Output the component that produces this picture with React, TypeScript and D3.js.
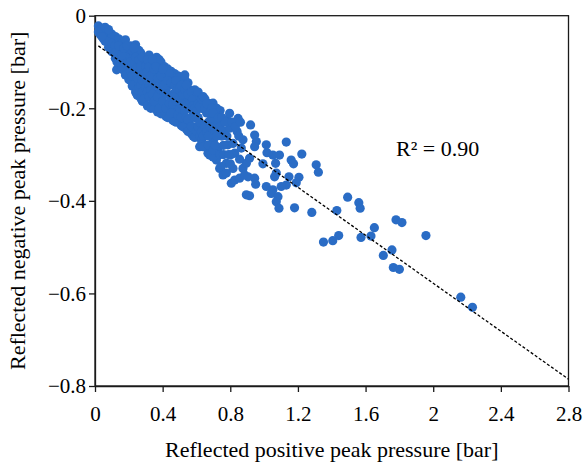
import React, { useEffect, useRef } from 'react'
import * as d3 from 'd3'

// points: [positive peak, negative peak] in bar
const clusterLow: [number, number][] = [
  [0.02, -0.022], [0.03, -0.03], [0.04, -0.027], [0.05, -0.035], [0.03, -0.04], [0.06, -0.038],
  [0.07, -0.033], [0.08, -0.045], [0.06, -0.055], [0.09, -0.05], [0.1, -0.04], [0.11, -0.06],
  [0.08, -0.068], [0.12, -0.045], [0.13, -0.07], [0.1, -0.078], [0.14, -0.05], [0.15, -0.088],
  [0.12, -0.092], [0.16, -0.06], [0.17, -0.1], [0.128, -0.117], [0.15, -0.075], [0.18, -0.052],
  [0.19, -0.08], [0.17, -0.118], [0.2, -0.11], [0.18, -0.128], [0.21, -0.065], [0.2, -0.138],
  [0.22, -0.09], [0.23, -0.13], [0.22, -0.152], [0.24, -0.063], [0.25, -0.1], [0.24, -0.165],
  [0.26, -0.14], [0.25, -0.172], [0.27, -0.08], [0.28, -0.12], [0.27, -0.178], [0.29, -0.16],
  [0.28, -0.185], [0.3, -0.09], [0.3, -0.135], [0.29, -0.105], [0.26, -0.075], [0.23, -0.11],
  [0.21, -0.14], [0.19, -0.11], [0.16, -0.11], [0.14, -0.085], [0.11, -0.075], [0.09, -0.065],
  [0.05, -0.05], [0.02, -0.035], [0.07, -0.055], [0.13, -0.1], [0.2, -0.125], [0.24, -0.15],
  [0.27, -0.165], [0.3, -0.178], [0.26, -0.12], [0.22, -0.075], [0.18, -0.09],
  [0.04, -0.045], [0.06, -0.025], [0.08, -0.03], [0.1, -0.06], [0.12, -0.065], [0.12, -0.08],
  [0.14, -0.065], [0.15, -0.1], [0.16, -0.085], [0.17, -0.07], [0.18, -0.105], [0.19, -0.125],
  [0.19, -0.065], [0.21, -0.1], [0.21, -0.12], [0.22, -0.13], [0.23, -0.07], [0.23, -0.15],
  [0.24, -0.09], [0.24, -0.115], [0.25, -0.135], [0.25, -0.16], [0.26, -0.095], [0.26, -0.155],
  [0.27, -0.11], [0.27, -0.13], [0.27, -0.15], [0.28, -0.09], [0.28, -0.14], [0.28, -0.165],
  [0.29, -0.125], [0.29, -0.18], [0.3, -0.11], [0.3, -0.155],
]

const clusterMid: [number, number][] = [
  [0.31, -0.195], [0.32, -0.085], [0.33, -0.11], [0.32, -0.15], [0.34, -0.19], [0.33, -0.2],
  [0.35, -0.1], [0.35, -0.14], [0.36, -0.17], [0.364, -0.09], [0.37, -0.2], [0.37, -0.208],
  [0.38, -0.12], [0.38, -0.155], [0.39, -0.1], [0.39, -0.185], [0.4, -0.14], [0.4, -0.21],
  [0.41, -0.11], [0.41, -0.17], [0.42, -0.218], [0.42, -0.13], [0.43, -0.115], [0.43, -0.19],
  [0.44, -0.15], [0.44, -0.21], [0.45, -0.12], [0.45, -0.175], [0.46, -0.226], [0.46, -0.14],
  [0.47, -0.2], [0.47, -0.125], [0.48, -0.16], [0.48, -0.23], [0.49, -0.13], [0.49, -0.19],
  [0.5, -0.215], [0.5, -0.145], [0.501, -0.132], [0.51, -0.17], [0.51, -0.237], [0.52, -0.2],
  [0.52, -0.15], [0.53, -0.137], [0.53, -0.225], [0.54, -0.175], [0.54, -0.245], [0.55, -0.145],
  [0.55, -0.2], [0.56, -0.235], [0.56, -0.16], [0.57, -0.185], [0.57, -0.255], [0.58, -0.215],
  [0.58, -0.26], [0.59, -0.16], [0.59, -0.24], [0.6, -0.19], [0.34, -0.125], [0.36, -0.13],
  [0.42, -0.16], [0.46, -0.17], [0.5, -0.18], [0.44, -0.125], [0.38, -0.095], [0.41, -0.195],
  [0.53, -0.19], [0.57, -0.22], [0.31, -0.12], [0.31, -0.165], [0.52, -0.24], [0.48, -0.205],
  [0.43, -0.22], [0.39, -0.212], [0.35, -0.2], [0.47, -0.228], [0.55, -0.25], [0.59, -0.263],
  [0.531, -0.128], [0.541, -0.157],
  [0.31, -0.095], [0.31, -0.14], [0.32, -0.11], [0.32, -0.175], [0.33, -0.13], [0.33, -0.16],
  [0.34, -0.095], [0.34, -0.17], [0.35, -0.115], [0.35, -0.185], [0.36, -0.11], [0.36, -0.15],
  [0.37, -0.135], [0.37, -0.175], [0.38, -0.2], [0.39, -0.13], [0.39, -0.16], [0.4, -0.115],
  [0.4, -0.185], [0.41, -0.15], [0.42, -0.2], [0.43, -0.14], [0.43, -0.17], [0.44, -0.19],
  [0.45, -0.145], [0.45, -0.21], [0.46, -0.19], [0.47, -0.15], [0.47, -0.175], [0.48, -0.14],
  [0.48, -0.185], [0.49, -0.16], [0.49, -0.215], [0.5, -0.16], [0.5, -0.2], [0.51, -0.15],
  [0.51, -0.19], [0.51, -0.22], [0.52, -0.17], [0.53, -0.16], [0.53, -0.205], [0.54, -0.15],
  [0.54, -0.22], [0.55, -0.17], [0.55, -0.225], [0.56, -0.2], [0.57, -0.165], [0.57, -0.24],
  [0.58, -0.18], [0.58, -0.195], [0.59, -0.2], [0.59, -0.22], [0.6, -0.25], [0.6, -0.205],
]

const clusterHigh: [number, number][] = [
  [0.6, -0.165], [0.62, -0.175], [0.63, -0.2], [0.61, -0.22], [0.64, -0.24], [0.62, -0.26],
  [0.619, -0.283], [0.65, -0.18], [0.66, -0.21], [0.67, -0.23], [0.678, -0.19], [0.668, -0.297],
  [0.678, -0.301], [0.69, -0.25], [0.698, -0.189], [0.7, -0.27], [0.71, -0.21], [0.72, -0.23],
  [0.718, -0.312], [0.73, -0.285], [0.737, -0.33], [0.74, -0.205], [0.75, -0.26], [0.757, -0.344],
  [0.767, -0.25], [0.777, -0.319], [0.78, -0.225], [0.786, -0.279], [0.796, -0.211], [0.796, -0.243],
  [0.806, -0.362], [0.816, -0.276], [0.816, -0.33], [0.826, -0.297], [0.826, -0.355], [0.84, -0.25],
  [0.846, -0.222], [0.855, -0.351], [0.865, -0.286], [0.875, -0.268], [0.875, -0.33], [0.885, -0.344],
  [0.895, -0.319], [0.895, -0.387], [0.905, -0.348], [0.6, -0.22], [0.61, -0.19], [0.63, -0.27],
  [0.64, -0.2], [0.65, -0.26], [0.66, -0.28], [0.67, -0.2], [0.69, -0.22], [0.7, -0.24],
  [0.72, -0.2], [0.73, -0.255], [0.69, -0.3], [0.746, -0.326], [0.698, -0.305], [0.639, -0.283],
  [0.777, -0.34], [0.806, -0.3], [0.855, -0.31],
  [0.61, -0.165], [0.61, -0.24], [0.62, -0.195], [0.62, -0.23], [0.63, -0.18], [0.63, -0.25],
  [0.64, -0.26], [0.64, -0.175], [0.65, -0.2], [0.65, -0.24], [0.66, -0.19], [0.66, -0.25],
  [0.67, -0.26], [0.67, -0.28], [0.68, -0.21], [0.68, -0.24], [0.69, -0.2], [0.7, -0.21],
  [0.7, -0.29], [0.71, -0.25], [0.71, -0.28], [0.72, -0.26], [0.73, -0.22], [0.74, -0.24],
  [0.74, -0.3], [0.75, -0.22], [0.76, -0.28], [0.76, -0.3], [0.77, -0.23], [0.78, -0.26],
  [0.79, -0.3], [0.8, -0.32], [0.81, -0.23], [0.83, -0.24], [0.85, -0.26], [0.86, -0.23],
]

const tail: [number, number][] = [
  [0.92, -0.236], [0.944, -0.258], [0.954, -0.272], [0.944, -0.283], [1.013, -0.279], [1.131, -0.273],
  [1.017, -0.296], [1.052, -0.301], [1.091, -0.301], [1.223, -0.299], [1.16, -0.312], [1.174, -0.32],
  [0.993, -0.32], [1.068, -0.319], [1.308, -0.322], [1.321, -0.338], [0.914, -0.308], [1.072, -0.34],
  [1.062, -0.348], [0.944, -0.351], [0.95, -0.364], [1.147, -0.348], [1.206, -0.349], [1.19, -0.361],
  [1.131, -0.366], [1.101, -0.369], [1.013, -0.369], [1.052, -0.376], [1.042, -0.384], [1.082, -0.391],
  [1.072, -0.402], [1.088, -0.416], [0.914, -0.389], [1.18, -0.415], [1.282, -0.425], [1.43, -0.421],
  [1.494, -0.392], [1.56, -0.404], [1.568, -0.416], [1.78, -0.441], [1.815, -0.447], [1.957, -0.475],
  [1.756, -0.506], [1.705, -0.518], [1.764, -0.544], [1.8, -0.548], [2.163, -0.608], [2.232, -0.63],
  [1.652, -0.458], [1.632, -0.476], [1.573, -0.479], [1.441, -0.475], [1.406, -0.486], [1.351, -0.489],
]

const xTicks = [0, 0.4, 0.8, 1.2, 1.6, 2, 2.4, 2.8]
const yTicks = [0, -0.2, -0.4, -0.6, -0.8]

// linear trendline, y = slope * x + intercept
const trendSlope = -0.259
const trendIntercept = -0.06
const trendRange = [0.02, 2.8]
const rSquaredLabel = 'R² = 0.90'

const xTitle = 'Reflected positive peak pressure [bar]'
const yTitle = 'Reflected negative peak pressure [bar]'

export default function App() {
  const ref = useRef<SVGSVGElement>(null)

  useEffect(() => {
    const svg = d3.select(ref.current)
    svg.selectAll('*').remove()

    const W = 583, H = 463
    const M = { left: 95, right: 14.5, top: 15.7, bottom: 77 }
    const font = '"Liberation Serif", "Times New Roman", serif'

    const x = d3.scaleLinear().domain([0, 2.8]).range([M.left, W - M.right])
    const y = d3.scaleLinear().domain([-0.8, 0]).range([H - M.bottom, M.top])

    // plot frame
    svg.append('rect')
      .attr('x', x(0)).attr('y', y(0))
      .attr('width', x(2.8) - x(0)).attr('height', y(-0.8) - y(0))
      .attr('fill', 'none').attr('stroke', '#1a1a1a').attr('stroke-width', 1.3)

    const xAxis = d3.axisBottom(x).tickValues(xTicks).tickFormat(d => String(d))
      .tickSize(6).tickSizeOuter(0).tickPadding(14)
    const yAxis = d3.axisLeft(y).tickValues(yTicks)
      .tickFormat(d => String(d).replace('-', '\u2212'))
      .tickSize(6).tickSizeOuter(0).tickPadding(3)

    const gx = svg.append('g').attr('transform', `translate(0,${y(-0.8)})`).call(xAxis)
    const gy = svg.append('g').attr('transform', `translate(${x(0)},0)`).call(yAxis)
    for (const g of [gx, gy]) {
      g.attr('font-family', font)
      g.select('.domain').attr('stroke', '#1a1a1a').attr('stroke-width', 1.3)
      g.selectAll('line').attr('stroke', '#1a1a1a').attr('stroke-width', 1.3)
      g.selectAll('text').attr('font-size', 21).attr('fill', '#000')
    }

    const all = [...clusterLow, ...clusterMid, ...clusterHigh, ...tail]
    svg.append('g')
      .selectAll('circle')
      .data(all)
      .enter()
      .append('circle')
      .attr('cx', d => x(d[0]))
      .attr('cy', d => y(d[1]))
      .attr('r', 4.6)
      .attr('fill', '#2a6cc5')

    const line = d3.line<number>()
      .x(d => x(d))
      .y(d => y(trendSlope * d + trendIntercept))
    svg.append('path')
      .datum(trendRange)
      .attr('d', line)
      .attr('fill', 'none')
      .attr('stroke', '#000')
      .attr('stroke-width', 1.3)
      .attr('stroke-dasharray', '3,2')

    svg.append('text')
      .attr('x', 396).attr('y', 156)
      .attr('font-family', font).attr('font-size', 22)
      .text(rSquaredLabel)

    svg.append('text')
      .attr('x', (x(0) + x(2.8)) / 2).attr('y', 457)
      .attr('text-anchor', 'middle')
      .attr('font-family', font).attr('font-size', 22)
      .text(xTitle)

    svg.append('text')
      .attr('transform', `translate(25,${(y(0) + y(-0.8)) / 2}) rotate(-90)`)
      .attr('text-anchor', 'middle')
      .attr('font-family', font).attr('font-size', 22)
      .text(yTitle)
  }, [])

  return (
    <svg ref={ref} width={583} height={463}
      style={{ position: 'absolute', left: 0, top: 0, background: '#fff' }} />
  )
}
